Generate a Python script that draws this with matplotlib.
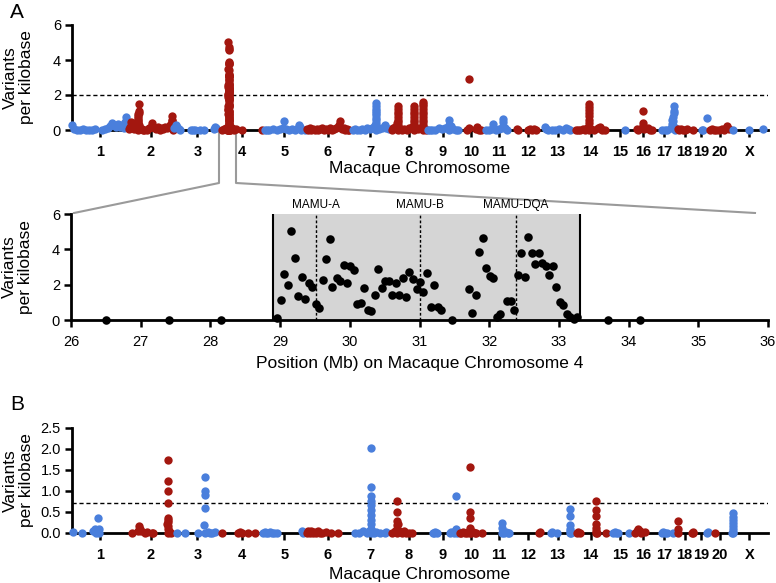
import matplotlib
matplotlib.use("Agg")
import matplotlib.pyplot as plt
from matplotlib.lines import Line2D
from matplotlib.ticker import FormatStrFormatter
import numpy as np

plt.rcParams['font.family'] = ['Liberation Sans', 'DejaVu Sans']

RED = '#a3170f'
BLUE = '#4a7fdc'
W, H = 776, 583

# rheMac2 chromosome sizes (Mb)
chrom_names = ['1', '2', '3', '4', '5', '6', '7', '8', '9', '10', '11', '12', '13',
               '14', '15', '16', '17', '18', '19', '20', 'X']
chrom_len = [228.3, 189.7, 196.4, 167.7, 182.1, 178.2, 169.8, 147.8, 133.3, 94.9, 134.5,
             106.5, 138.0, 133.0, 110.1, 78.8, 94.5, 73.6, 64.4, 88.2, 153.9]

# MHC region on chromosome 4 (Mb, variants per kb)
mhc_mb = [26.50, 27.41, 28.15, 28.95, 29.01, 29.06, 29.11, 29.16, 29.21, 29.26,
          29.31, 29.36, 29.41, 29.46, 29.51, 29.56, 29.61, 29.66, 29.71, 29.75,
          29.81, 29.86, 29.91, 29.96, 30.01, 30.06, 30.11, 30.16, 30.21, 30.26,
          30.31, 30.36, 30.41, 30.46, 30.51, 30.56, 30.61, 30.66, 30.71, 30.76,
          30.81, 30.85, 30.90, 30.96, 31.01, 31.05, 31.11, 31.16, 31.21, 31.26,
          31.31, 31.46, 31.71, 31.76, 31.81, 31.86, 31.91, 31.96, 32.01, 32.06,
          32.11, 32.16, 32.25, 32.31, 32.36, 32.41, 32.46, 32.51, 32.56, 32.61,
          32.66, 32.71, 32.76, 32.81, 32.86, 32.91, 32.96, 33.01, 33.06, 33.11,
          33.16, 33.21, 33.26, 33.71, 34.16]
mhc_val = [0.0, 0.0, 0.0, 0.13, 1.13, 2.58, 1.98, 5.04, 3.49, 1.36,
           2.45, 1.19, 2.07, 1.89, 0.91, 0.66, 2.26, 3.45, 4.57, 1.89,
           2.4, 2.23, 3.11, 2.07, 3.06, 2.83, 0.91, 0.94, 1.79, 0.57,
           0.53, 1.42, 2.87, 1.79, 2.23, 2.23, 1.42, 2.1, 1.42, 2.4,
           1.32, 2.7, 2.32, 1.74, 2.13, 1.6, 2.64, 0.72, 1.98, 0.72,
           0.57, 0.0, 1.77, 0.38, 1.4, 3.87, 4.62, 2.96, 2.49, 2.36,
           0.19, 0.34, 1.09, 1.09, 0.57, 2.57, 3.77, 2.42, 4.72, 3.81,
           3.15, 3.77, 3.21, 3.07, 2.55, 3.07, 1.89, 1.04, 0.85, 0.34,
           0.15, 0.04, 0.19, 0.0, 0.0]
mhc_start, mhc_end = 28.9, 33.3
gene_names = ['MAMU-A', 'MAMU-B', 'MAMU-DQA']
gene_mb = [29.52, 31.0, 32.38]

# chromosome 4 outside the MHC window
chr4_other_mb = [2, 10, 18, 22, 40, 45, 52, 60, 85, 166]
chr4_other_val = [0.0, 0.05, 0.1, 0.0, 0.05, 0.1, 0.0, 0.05, 0.0, 0.0]

# panel A: one inner list per chromosome (position in Mb, variants per kb)
a_mb = [
    [1, 8, 21, 33, 45, 58, 70, 82, 95, 123, 136, 148, 156, 165, 173, 181, 189, 198, 206, 214, 218, 222],
    [5, 10, 13, 17, 22, 28, 33, 38, 44, 44, 45, 45, 45, 45, 45, 45, 45, 45, 46, 46, 46, 48, 52, 58,
     64, 70, 80, 88, 95, 101, 106, 112, 118, 125, 132, 140, 148, 155, 162, 170, 176, 183, 184, 184,
     184, 184, 185, 188],
    [3, 10, 16, 22, 28, 70, 80, 90, 108, 127, 165, 170, 175],
    chr4_other_mb + mhc_mb,
    [12, 19, 30, 45, 60, 72, 85, 91, 98, 110, 122, 135, 148, 152, 156, 162, 175],
    [2, 8, 14, 20, 28, 35, 42, 50, 58, 66, 74, 82, 90, 98, 106, 114, 122, 130, 136, 138, 140, 146,
     154, 160, 166, 172, 177],
    [12, 22, 32, 42, 52, 62, 72, 82, 92, 100, 106, 108, 108, 108, 108, 108, 108, 108, 108, 108, 108,
     108, 112, 120, 135, 145, 150, 160],
    [3, 10, 18, 25, 30, 30, 30, 30, 30, 30, 30, 30, 30, 30, 35, 45, 55, 65, 75, 85,
     95, 95, 95, 95, 95, 95, 95, 95, 95, 95, 100, 110, 120,
     130, 130, 130, 130, 130, 130, 130, 130, 130, 130, 130, 130, 140, 146],
    [5, 12, 22, 35, 50, 62, 75, 85, 91, 91, 91, 95, 100, 108, 118, 128],
    [33, 40, 40, 70, 74, 80, 88],
    [15, 28, 38, 45, 45, 55, 70, 80, 86, 86, 86, 92, 100],
    [8, 12, 55, 62, 70, 80, 88],
    [15, 20, 30, 45, 60, 75, 90, 105, 112, 120],
    [5, 15, 25, 35, 45, 52, 60, 60, 60, 60, 60, 60, 60, 60, 60, 68, 80, 95, 105, 108, 115, 125],
    [75],
    [13, 20, 35, 40, 40, 40, 45, 60, 68, 75],
    [40, 51, 60, 75, 78, 80, 82, 85, 86, 88, 89, 89, 91, 93],
    [8, 14, 22, 30, 40, 46, 72],
    [33, 38, 54],
    [5, 12, 20, 30, 40, 52, 62, 70, 74, 80],
    [11, 77, 132],
]
a_val = [
    [0.29, 0.05, 0.02, 0.0, 0.05, 0.0, 0.02, 0.0, 0.03, 0.0, 0.05, 0.1, 0.25, 0.38, 0.3, 0.15, 0.35,
     0.2, 0.3, 0.1, 0.45, 0.72],
    [0.05, 0.2, 0.47, 0.3, 0.1, 0.05, 0.15, 0.3, 0.0, 0.1, 0.2, 0.3, 0.4, 0.5, 0.6, 0.7, 0.8, 0.9,
     1.0, 1.1, 1.47, 0.3, 0.1, 0.05, 0.0, 0.02, 0.0, 0.1, 0.2, 0.38, 0.2, 0.1, 0.05, 0.15, 0.0, 0.1,
     0.05, 0.2, 0.1, 0.15, 0.3, 0.1, 0.2, 0.35, 0.5, 0.6, 0.8, 0.0],
    [0.1, 0.3, 0.15, 0.05, 0.0, 0.0, 0.0, 0.02, 0.0, 0.0, 0.05, 0.2, 0.1],
    chr4_other_val + mhc_val,
    [0.0, 0.02, 0.0, 0.05, 0.0, 0.03, 0.1, 0.53, 0.05, 0.0, 0.03, 0.0, 0.1, 0.27, 0.15, 0.0, 0.0],
    [0.05, 0.0, 0.1, 0.02, 0.05, 0.0, 0.08, 0.0, 0.05, 0.1, 0.0, 0.05, 0.02, 0.1, 0.0, 0.05, 0.1,
     0.15, 0.3, 0.5, 0.2, 0.05, 0.1, 0.0, 0.05, 0.0, 0.02],
    [0.0, 0.05, 0.0, 0.02, 0.05, 0.0, 0.1, 0.05, 0.1, 0.15, 0.3, 0.0, 0.2, 0.4, 0.55, 0.7, 0.85, 1.0,
     1.1, 1.2, 1.35, 1.56, 0.2, 0.05, 0.1, 0.3, 0.1, 0.05],
    [0.0, 0.1, 0.2, 0.4, 0.0, 0.15, 0.3, 0.45, 0.6, 0.75, 0.9, 1.05, 1.2, 1.37, 0.1, 0.0, 0.05, 0.0,
     0.1, 0.2, 0.0, 0.15, 0.3, 0.45, 0.6, 0.75, 0.9, 1.05, 1.2, 1.37, 0.2, 0.05, 0.1,
     0.0, 0.15, 0.3, 0.45, 0.6, 0.75, 0.9, 1.05, 1.2, 1.35, 1.5, 1.62, 0.05, 0.0],
    [0.0, 0.0, 0.02, 0.0, 0.1, 0.05, 0.1, 0.2, 0.0, 0.3, 0.57, 0.15, 0.25, 0.05, 0.0, 0.02],
    [0.02, 0.1, 2.9, 0.05, 0.15, 0.02, 0.0],
    [0.0, 0.02, 0.05, 0.1, 0.36, 0.0, 0.05, 0.1, 0.25, 0.45, 0.65, 0.1, 0.0],
    [0.05, 0.0, 0.0, 0.05, 0.0, 0.05, 0.0],
    [0.2, 0.05, 0.0, 0.02, 0.0, 0.05, 0.0, 0.1, 0.05, 0.0],
    [0.0, 0.02, 0.0, 0.05, 0.0, 0.1, 0.0, 0.2, 0.4, 0.6, 0.8, 1.0, 1.15, 1.3, 1.49, 0.05, 0.0, 0.1,
     0.2, 0.05, 0.02, 0.0],
    [0.0],
    [0.05, 0.0, 0.1, 0.25, 0.4, 1.09, 0.05, 0.1, 0.02, 0.0],
    [0.0, 0.02, 0.0, 0.1, 0.35, 0.6, 0.75, 0.5, 0.95, 0.2, 1.1, 1.37, 0.1, 0.0],
    [0.05, 0.0, 0.05, 0.02, 0.0, 0.05, 0.0],
    [0.02, 0.0, 0.69],
    [0.0, 0.05, 0.0, 0.02, 0.0, 0.05, 0.0, 0.1, 0.25, 0.05],
    [0.0, 0.0, 0.05],
]

# panel B
b_mb = [
    [3, 40, 88, 95, 100, 105, 108, 110, 112],
    [17, 45, 48, 51, 55, 72, 79, 100, 106, 163, 165, 168, 168, 168, 168, 168, 168, 168, 168, 168,
     172, 178],
    [13, 47, 100, 125, 129, 129, 129, 129, 129, 140, 150, 160, 171],
    [2, 70, 78, 84, 111, 139],
    [5, 10, 18, 25, 32, 40, 48, 62, 163, 167],
    [3, 8, 14, 20, 26, 32, 40, 48, 56, 66, 80, 100, 132],
    [22, 40, 55, 70, 80, 86, 86, 86, 86, 86, 86, 86, 86, 86, 86, 86, 92, 100, 110, 125, 145, 150],
    [5, 15, 26, 26, 26, 26, 26, 26, 30, 34, 45, 55, 62, 75, 85],
    [25, 30, 35, 40, 95, 100, 110, 117, 120, 121, 125],
    [2, 8, 15, 22, 30, 38, 44, 44, 44, 44, 44, 50, 58, 64, 70, 92],
    [79, 79, 80, 90, 98, 105, 110],
    [100, 103],
    [40, 45, 65, 118, 120, 120, 120, 120, 120, 124],
    [10, 15, 22, 89, 89, 89, 89, 89, 89, 89, 93, 130],
    [27, 33, 40, 46, 93],
    [6, 14, 20, 25, 30, 47],
    [37, 42, 50, 58, 85],
    [8, 8, 9, 66, 70, 73],
    [55, 60],
    [23],
    [5, 8, 11, 11, 11, 11, 11, 11, 11],
]
b_val = [
    [0.02, 0.0, 0.03, 0.08, 0.0, 0.05, 0.35, 0.1, 0.0],
    [0.0, 0.05, 0.15, 0.1, 0.05, 0.0, 0.02, 0.0, 0.0, 0.2, 0.3, 1.74, 1.24, 1.0, 0.7, 0.34, 0.25,
     0.15, 0.08, 0.0, 0.05, 0.0],
    [0.0, 0.0, 0.0, 0.18, 1.32, 1.0, 0.9, 0.58, 0.0, 0.02, 0.0, 0.0, 0.02],
    [0.0, 0.0, 0.02, 0.0, 0.0, 0.0],
    [0.0, 0.02, 0.0, 0.0, 0.02, 0.0, 0.0, 0.0, 0.05, 0.0],
    [0.0, 0.03, 0.0, 0.05, 0.0, 0.02, 0.0, 0.05, 0.0, 0.0, 0.02, 0.0, 0.0],
    [0.0, 0.0, 0.03, 0.0, 0.05, 2.02, 1.1, 0.88, 0.75, 0.67, 0.55, 0.42, 0.3, 0.2, 0.1, 0.0, 0.05,
     0.0, 0.02, 0.0, 0.0, 0.02],
    [0.0, 0.05, 0.76, 0.5, 0.28, 0.18, 0.1, 0.0, 0.2, 0.05, 0.0, 0.03, 0.0, 0.0, 0.0],
    [0.0, 0.0, 0.02, 0.0, 0.0, 0.02, 0.0, 0.05, 0.88, 0.1, 0.0],
    [0.0, 0.0, 0.02, 0.0, 0.0, 0.02, 1.57, 0.5, 0.35, 0.12, 0.0, 0.0, 0.02, 0.0, 0.0, 0.0],
    [0.24, 0.12, 0.0, 0.0, 0.02, 0.0, 0.0],
    [0.0, 0.02],
    [0.0, 0.02, 0.0, 0.05, 0.56, 0.4, 0.18, 0.1, 0.0, 0.0],
    [0.0, 0.02, 0.0, 0.75, 0.55, 0.4, 0.2, 0.12, 0.05, 0.0, 0.0, 0.0],
    [0.0, 0.02, 0.0, 0.0, 0.0],
    [0.0, 0.05, 0.1, 0.05, 0.0, 0.02],
    [0.0, 0.02, 0.0, 0.0, 0.0],
    [0.29, 0.08, 0.0, 0.0, 0.02, 0.0],
    [0.0, 0.02],
    [0.0],
    [0.0, 0.02, 0.48, 0.38, 0.3, 0.22, 0.15, 0.08, 0.0],
]

offsets = np.concatenate([[0], np.cumsum(chrom_len)[:-1]])
centers = offsets + np.array(chrom_len) / 2
genome_len = sum(chrom_len)

fig = plt.figure(figsize=(W / 100, H / 100), dpi=100)


def axes_px(left, top, right, bottom):
    return fig.add_axes([left / W, 1 - bottom / H, (right - left) / W, (bottom - top) / H])


def style_axes(ax):
    for s in ['top', 'right']:
        ax.spines[s].set_visible(False)
    for s in ['left', 'bottom']:
        ax.spines[s].set_linewidth(2)
    ax.tick_params(axis='both', direction='out', length=5, width=1.8, labelsize=10.5)
    ax.tick_params(axis='y', pad=3)
    ax.set_ylabel('Variants\nper kilobase', fontsize=12.5, linespacing=1.05)
    ax.yaxis.set_label_coords(-0.055, 0.5)


def manhattan(ax, mb_lists, val_lists, ymax, yticks, threshold):
    for i, (mbs, vals) in enumerate(zip(mb_lists, val_lists, strict=True)):
        x = offsets[i] + np.array(mbs, dtype=float)
        y = np.array(vals, dtype=float)
        assert len(x) == len(y)
        ax.scatter(x, y, s=36, color=BLUE if i % 2 == 0 else RED, linewidths=0,
                   clip_on=False, zorder=3)
    ax.axhline(threshold, color='black', lw=1, ls=(0, (3, 2)), zorder=1)
    ax.set_xlim(0, genome_len)
    ax.set_ylim(0, ymax)
    ax.set_yticks(yticks)
    ax.set_xticks(centers)
    ax.set_xticklabels(chrom_names, fontweight='bold', fontsize=8.5)
    style_axes(ax)
    ax.tick_params(axis='x', pad=6)
    ax.set_xlabel('Macaque Chromosome', fontsize=12.5)


# panel A
axA = axes_px(72, 25, 768, 130)
manhattan(axA, a_mb, a_val, 6, [0, 2, 4, 6], 2)
axA.xaxis.set_label_coords(0.5, -0.3)

# zoom on MHC
axM = axes_px(71, 214, 768, 320)
axM.axvspan(mhc_start, mhc_end, color='#d5d5d5', lw=0, zorder=0)
for xb in (mhc_start, mhc_end):
    axM.axvline(xb, color='black', lw=1.5, zorder=1)
for name, g in zip(gene_names, gene_mb):
    axM.axvline(g, color='black', lw=1, ls=(0, (2, 1.5)), zorder=1)
    axM.annotate(name, (g, 6), xytext=(0, 2), textcoords='offset points', ha='center',
                 va='bottom', fontsize=8.5, annotation_clip=False)
axM.scatter(mhc_mb, mhc_val, s=38, color='black', linewidths=0, clip_on=False, zorder=3)
axM.set_xlim(26, 36)
axM.set_ylim(0, 6)
axM.set_xticks(range(26, 37))
axM.set_yticks([0, 2, 4, 6])
style_axes(axM)
axM.tick_params(axis='x', pad=6)
axM.set_xlabel('Position (Mb) on Macaque Chromosome 4', fontsize=12.5)
axM.xaxis.set_label_coords(0.5, -0.34)

# panel B
axB = axes_px(72, 427.7, 768, 532.7)
manhattan(axB, b_mb, b_val, 2.5, [0, 0.5, 1.0, 1.5, 2.0, 2.5], 0.7)
axB.yaxis.set_major_formatter(FormatStrFormatter('%.1f'))
axB.xaxis.set_label_coords(0.5, -0.33)

# connector lines from panel A to the zoomed view
for pts in ([(219, 131), (219, 183), (74, 213)], [(236, 131), (236, 183), (755, 213)]):
    xs = [p[0] / W for p in pts]
    ys = [1 - p[1] / H for p in pts]
    fig.add_artist(Line2D(xs, ys, color='#9a9a9a', lw=1.5, transform=fig.transFigure, zorder=0))

fig.text(10 / W, 1 - 12 / H, 'A', fontsize=15, va='center', ha='left')
fig.text(10 / W, 1 - 404 / H, 'B', fontsize=15, va='center', ha='left')

fig.savefig('out.png', dpi=100)
